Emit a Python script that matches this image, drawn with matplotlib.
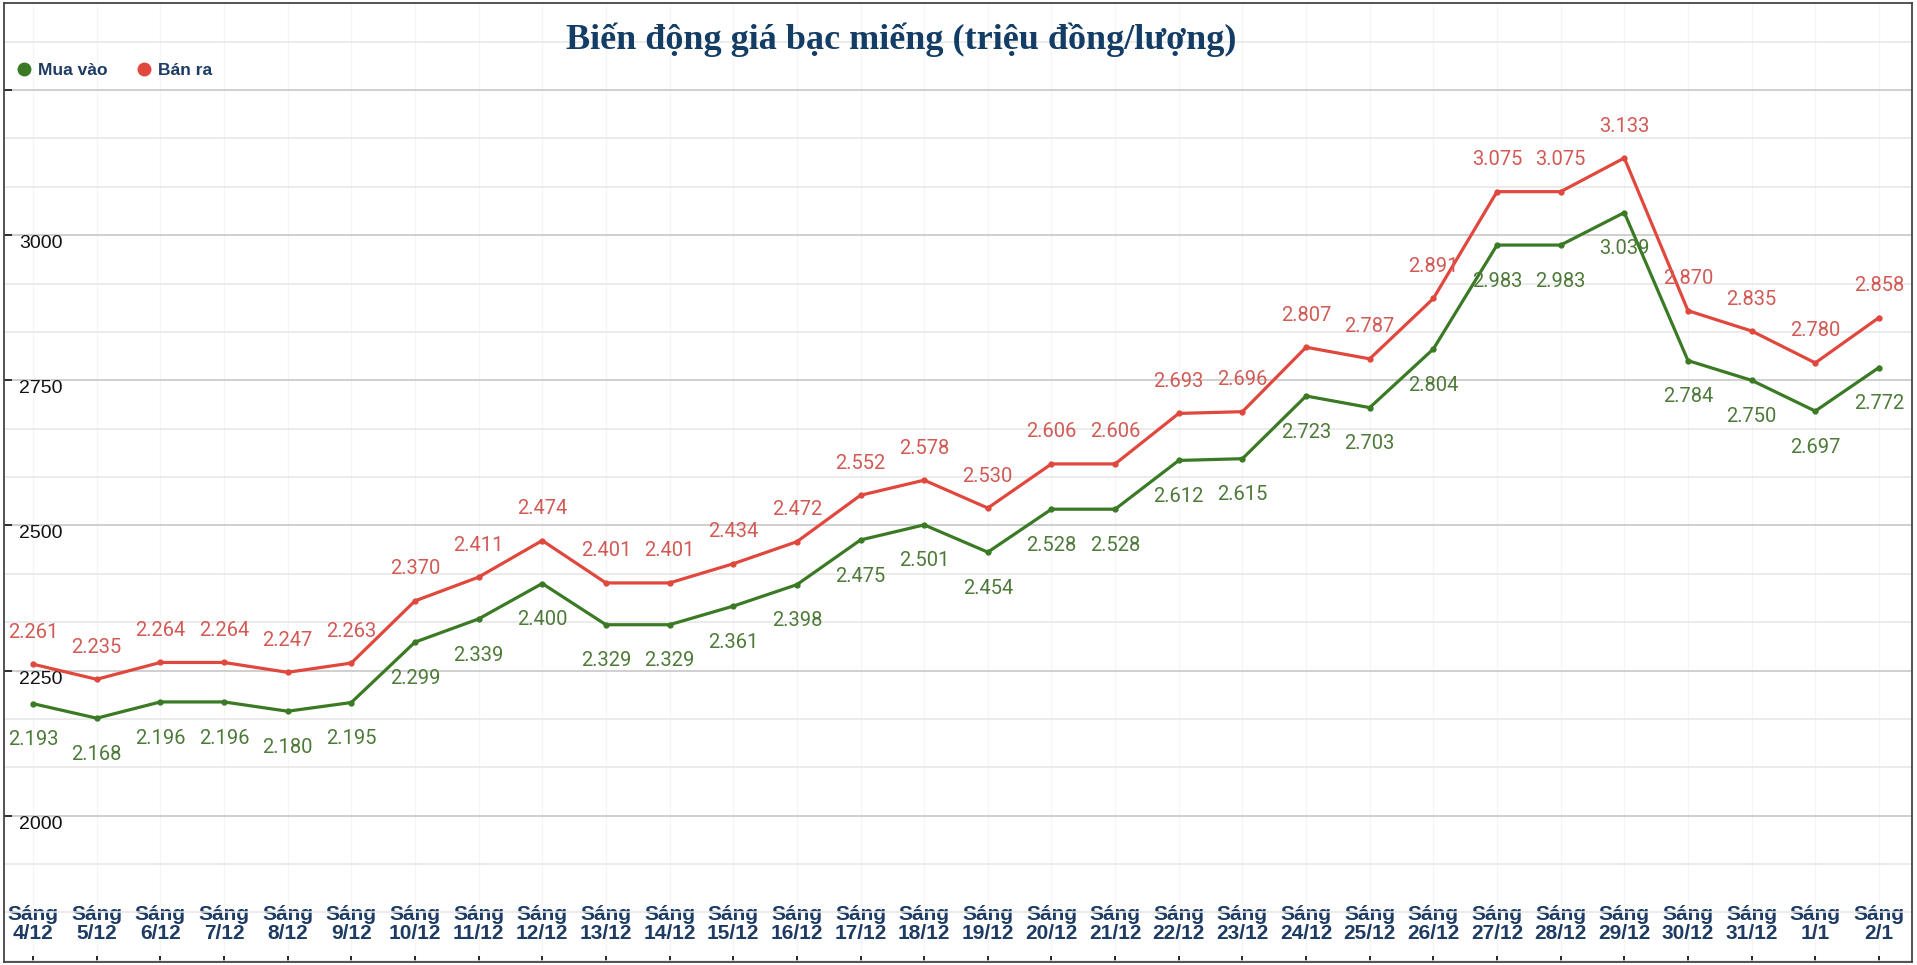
import numpy as np
import matplotlib
matplotlib.use("Agg")
import matplotlib.pyplot as plt
from matplotlib.lines import Line2D
from matplotlib.ticker import MultipleLocator, FixedLocator

plt.rcParams['font.family'] = ['Liberation Sans', 'DejaVu Sans']

# data
days = ['4/12', '5/12', '6/12', '7/12', '8/12', '9/12', '10/12', '11/12', '12/12',
        '13/12', '14/12', '15/12', '16/12', '17/12', '18/12', '19/12', '20/12',
        '21/12', '22/12', '23/12', '24/12', '25/12', '26/12', '27/12', '28/12',
        '29/12', '30/12', '31/12', '1/1', '2/1']
mua_vao = [2193, 2168, 2196, 2196, 2180, 2195, 2299, 2339, 2400, 2329, 2329, 2361,
           2398, 2475, 2501, 2454, 2528, 2528, 2612, 2615, 2723, 2703, 2804, 2983,
           2983, 3039, 2784, 2750, 2697, 2772]
ban_ra = [2261, 2235, 2264, 2264, 2247, 2263, 2370, 2411, 2474, 2401, 2401, 2434,
          2472, 2552, 2578, 2530, 2606, 2606, 2693, 2696, 2807, 2787, 2891, 3075,
          3075, 3133, 2870, 2835, 2780, 2858]
y_ticks = [2000, 2250, 2500, 2750, 3000, 3250]
y_labels = ['2000', '2250', '2500', '2750', '3000', '']

GREEN = '#3b7a24'
GREEN_TXT = '#4d7a38'
RED = '#e0483e'
RED_TXT = '#d25a55'
NAVY = '#1d3b63'

fig = plt.figure(figsize=(19.17, 9.65), dpi=100)
ax = fig.add_axes([0.0021, 0.0031, 0.9953, 0.9938])

x = np.arange(len(days))
ax.plot(x, ban_ra, color=RED, lw=2.3, marker='o', ms=3.5, zorder=3)
ax.plot(x, mua_vao, color=GREEN, lw=2.3, marker='o', ms=3.5, zorder=3)

def fmt(v):
    return f"{v / 1000:.3f}"

for xi, v in zip(x, ban_ra):
    ax.annotate(fmt(v), (xi, v), xytext=(0, 23), textcoords='offset points',
                ha='center', va='center', fontsize=14.5, color=RED_TXT,
                family='Roboto', zorder=4)
for xi, v in zip(x, mua_vao):
    ax.annotate(fmt(v), (xi, v), xytext=(0, -26), textcoords='offset points',
                ha='center', va='center', fontsize=14.5, color=GREEN_TXT,
                family='Roboto', zorder=4)

ax.set_xlim(-0.456, 29.52)
ax.set_ylim(1748, 3400)

# grid
ax.yaxis.set_major_locator(FixedLocator(y_ticks))
ax.yaxis.set_minor_locator(MultipleLocator(250 / 3))
ax.grid(axis='y', which='major', color='#cccccc', lw=1.3, zorder=0)
ax.grid(axis='y', which='minor', color='#e6e6e6', lw=1.1, zorder=0)
ax.grid(axis='x', which='major', color='#f5f5f5', lw=1, zorder=0)

ax.set_yticks(y_ticks, y_labels)
ax.tick_params(axis='y', which='major', direction='in', length=6, width=1.3,
               pad=-11, labelsize=14, labelcolor='#111111', color='#222222')
ax.tick_params(axis='y', which='minor', length=0)
plt.setp(ax.get_yticklabels(), ha='left', va='top')

ax.set_xticks(x, ['Sáng\n' + d for d in days])
ax.tick_params(axis='x', direction='in', length=4, width=1.2, pad=-41,
               labelsize=15, labelcolor=NAVY)
plt.setp(ax.get_xticklabels(), fontweight='bold', linespacing=1.0)

for s in ax.spines.values():
    s.set_color('#444444')
    s.set_linewidth(1.3)

# title and legend
fig.text(0.47, 1 - 40 / 965, 'Biến động giá bạc miếng (triệu đồng/lượng)',
         ha='center', va='center', fontsize=26, fontweight='bold',
         family='Liberation Serif', color='#143d66')

handles = [Line2D([], [], ls='none', marker='o', ms=9, color=GREEN),
           Line2D([], [], ls='none', marker='o', ms=9, color=RED)]
leg = fig.legend(handles, ['Mua vào', 'Bán ra'], loc='center left',
                 bbox_to_anchor=(0.0, 1 - 70 / 965), ncol=2, frameon=False,
                 handletextpad=0.3, columnspacing=1.6, handlelength=1.0,
                 prop={'weight': 'bold', 'size': 12.5})
for t in leg.get_texts():
    t.set_color(NAVY)

fig.savefig('out.png', dpi=100)
